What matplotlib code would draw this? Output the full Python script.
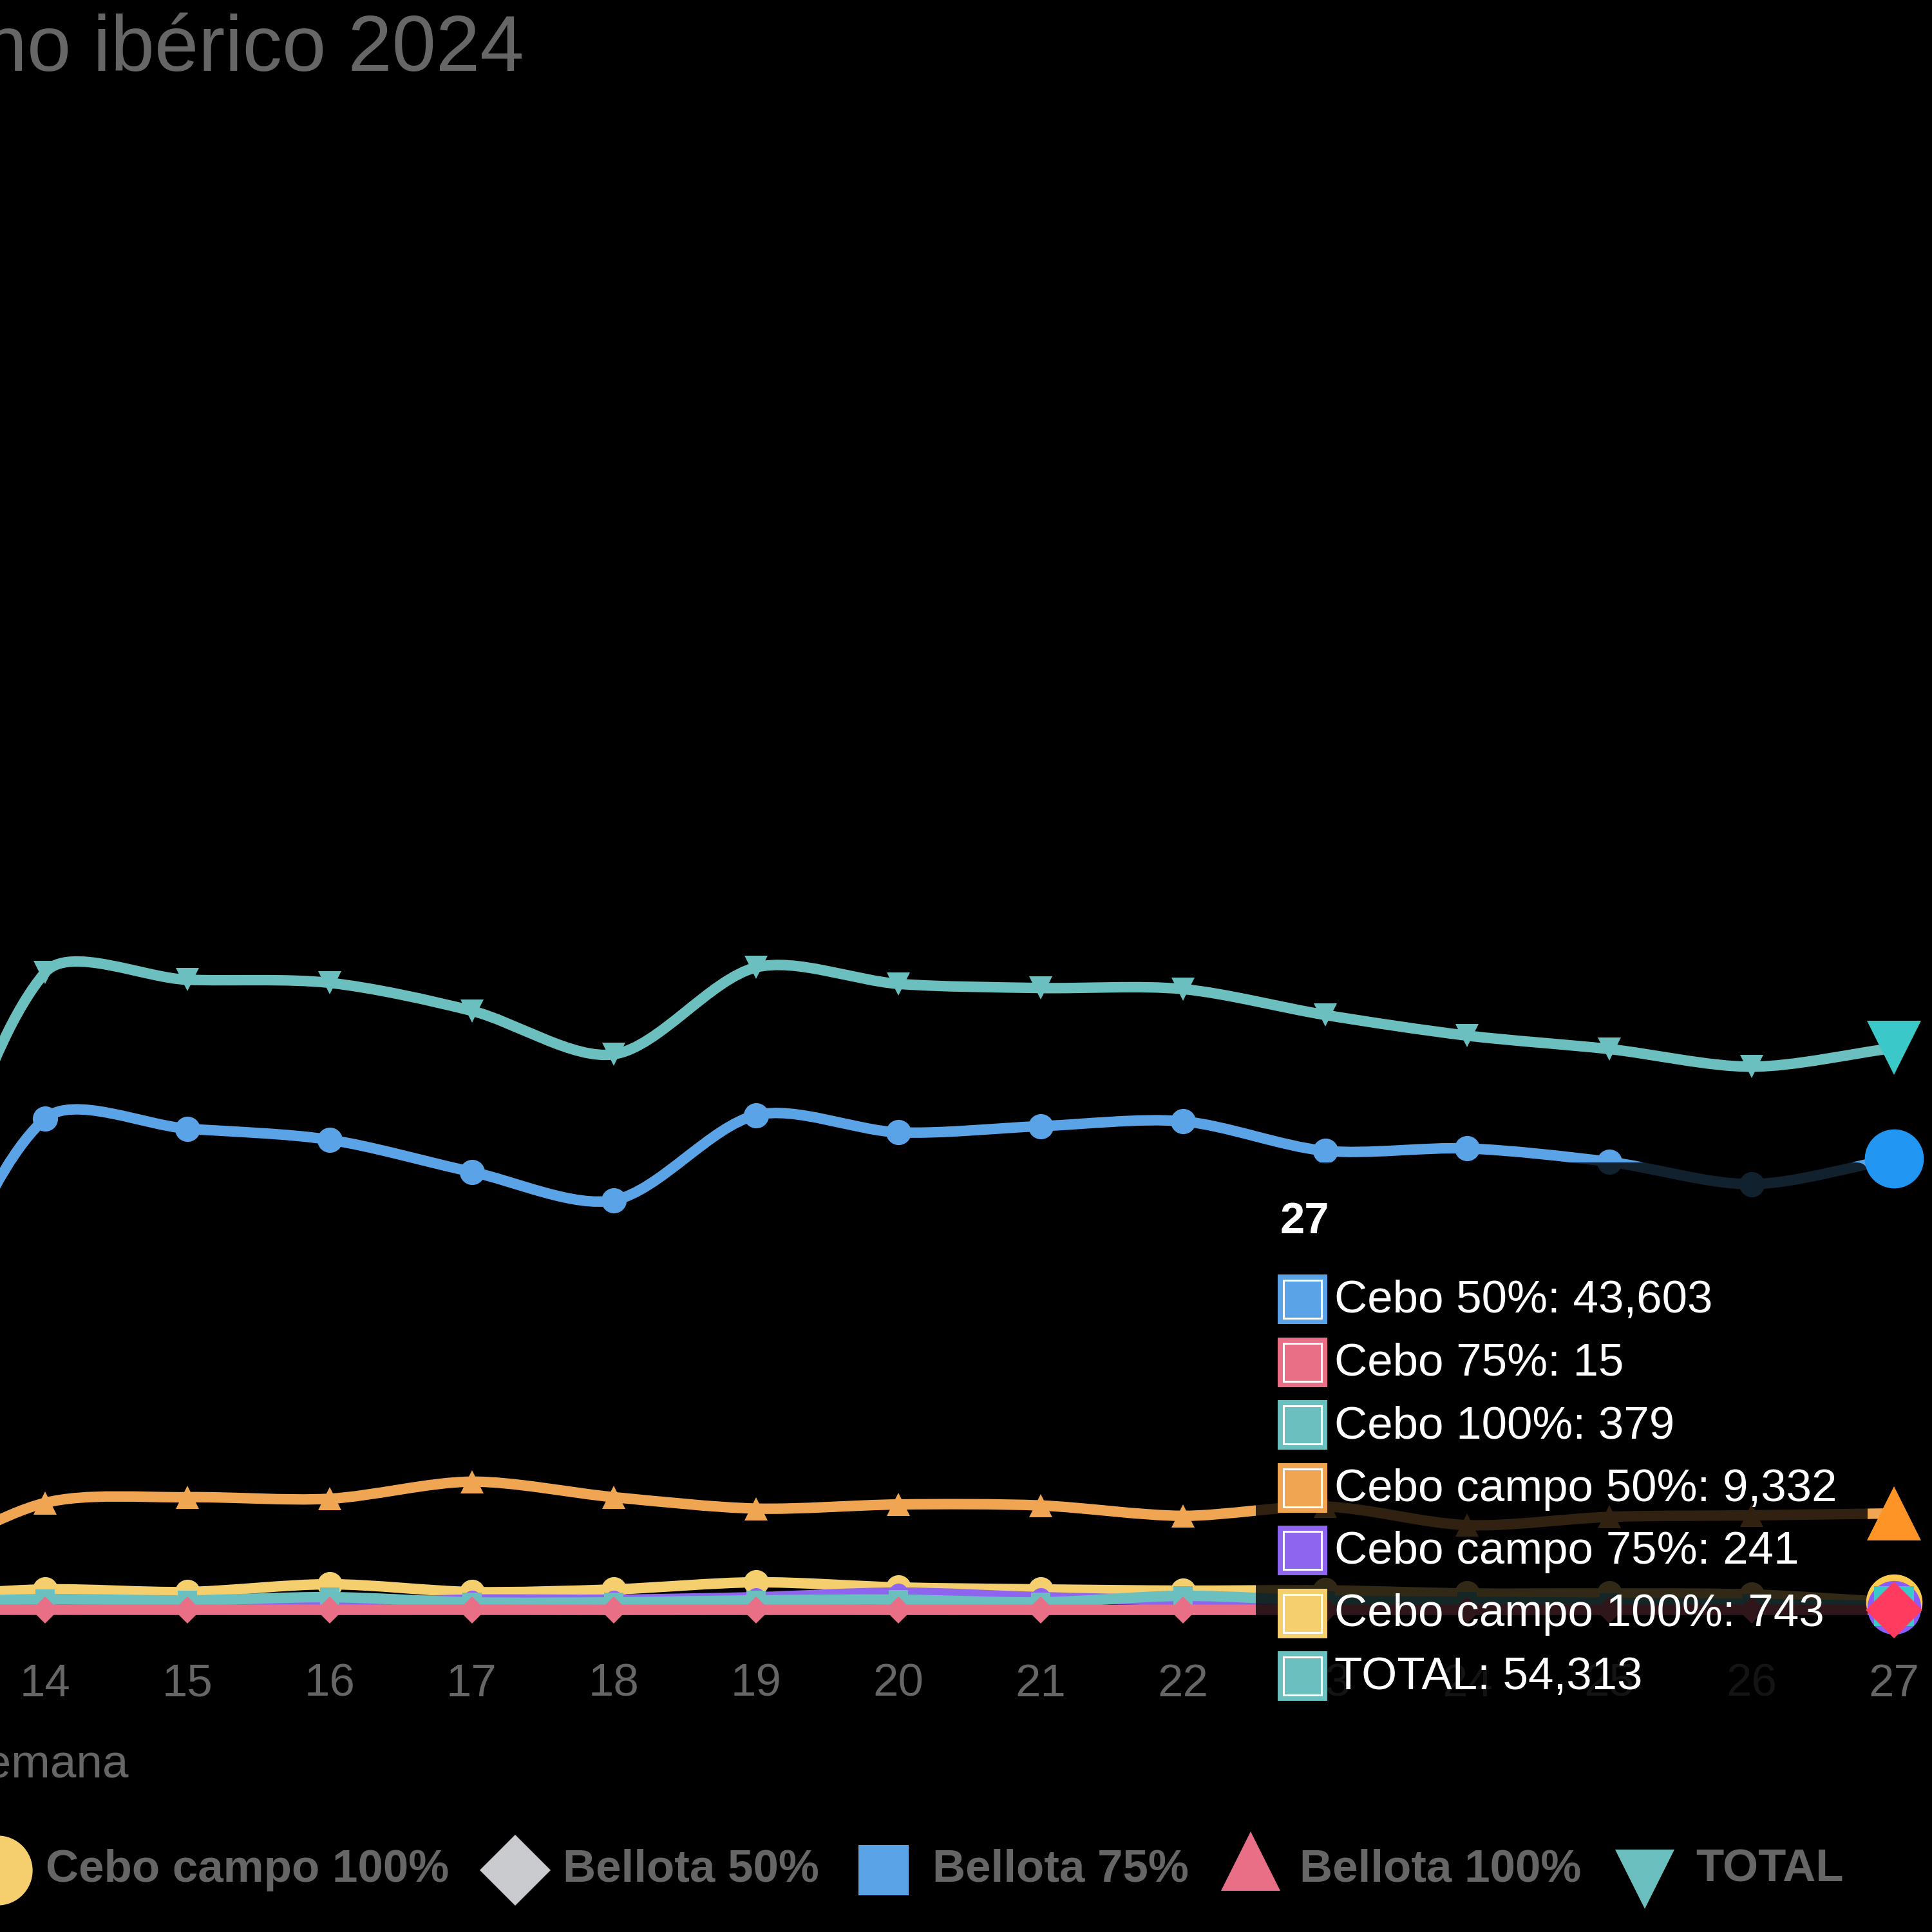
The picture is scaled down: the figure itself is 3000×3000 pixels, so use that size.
import numpy as np
import matplotlib
matplotlib.use("Agg")
import matplotlib.pyplot as plt
from matplotlib.path import Path
from matplotlib.patches import PathPatch, FancyBboxPatch, Rectangle
from matplotlib.lines import Line2D

# ---- data (weekly pig slaughter, 2024) ----
WEEKS = [13, 14, 15, 16, 17, 18, 19, 20, 21, 22, 23, 24, 25, 26, 27]
CEBO_50 = [22000, 47480, 46510, 45440, 42340, 39600, 47820, 46150, 46750, 47220, 44370, 44600, 43300, 41150, 43603]
CEBO_75 = [20, 25, 20, 18, 22, 15, 20, 18, 15, 16, 14, 12, 15, 13, 15]
CEBO_100 = [700, 1050, 930, 1240, 740, 740, 930, 1000, 740, 1370, 900, 800, 700, 600, 379]
CEBO_CAMPO_50 = [4000, 10350, 10900, 10750, 12400, 10900, 9800, 10200, 10100, 9100, 10000, 8200, 9000, 9150, 9332]
CEBO_CAMPO_75 = [500, 700, 800, 700, 1000, 1000, 1240, 1680, 1240, 930, 800, 700, 600, 500, 241]
CEBO_CAMPO_100 = [1200, 1990, 1740, 2490, 1740, 1990, 2680, 2180, 1990, 1870, 1900, 1600, 1600, 1500, 743]
TOTAL = [28500, 61600, 60900, 60600, 57900, 53700, 62100, 60500, 60100, 60000, 57500, 55500, 54200, 52500, 54313]

TICK_WEEKS = [14, 15, 16, 17, 18, 19, 20, 21, 22, 23, 24, 25, 26, 27]
TITLE = "Sacrificio de porcino ibérico 2024"

BLUE, PINK, TEAL = "#5aa3e6", "#e96f86", "#6bbfbf"
ORANGE, PURPLE, YELLOW, GREY = "#efa552", "#8e65ef", "#f5cf6e", "#c9cbcf"
TEXT_GREY = "#666666"

# label, values, colour, hover colour, marker, marker size, hover size
SERIES = [
    ("Cebo 50%", CEBO_50, BLUE, "#2196f3", "o", 9.4, 22),
    ("Cebo 75%", CEBO_75, PINK, "#ff3b5f", "D", 7, 15),
    ("Cebo 100%", CEBO_100, TEAL, "#3bc8c8", "s", 7, 15),
    ("Cebo campo 50%", CEBO_CAMPO_50, ORANGE, "#ff9426", "^", 8.5, 20),
    ("Cebo campo 75%", CEBO_CAMPO_75, PURPLE, "#8a5cff", "o", 7, 20),
    ("Cebo campo 100%", CEBO_CAMPO_100, YELLOW, "#ffcb4f", "o", 9.4, 21),
    ("TOTAL", TOTAL, TEAL, "#3bc8c8", "v", 8.5, 20),
]

LEGEND = [
    ("Cebo campo 100%", "o", YELLOW, -4, 2904, 26, 71),
    ("Bellota 50%", "D", GREY, 800, 2904, 18.7, 874),
    ("Bellota 75%", "s", BLUE, 1372, 2904, 18.7, 1448),
    ("Bellota 100%", "^", PINK, 1942, 2890, 22, 2018),
    ("TOTAL", "v", TEAL, 2554, 2918, 22, 2633),
]

plt.rcParams["font.family"] = ["Liberation Sans", "DejaVu Sans"]

W = H = 3000


def fx(x):
    return x / W


def fy(y):
    return 1 - y / H


# pixel geometry of the (cropped) chart area
X14, X27 = 70, 2941
ZERO_Y, PX_PER_UNIT = 2500, 0.01607
AX_TOP, AX_BOTTOM = 120, 2545

fig = plt.figure(figsize=(10, 10), dpi=300, facecolor="black")
ax = fig.add_axes([0, fy(AX_BOTTOM), 1, (AX_BOTTOM - AX_TOP) / H])
ax.set_facecolor("black")
per_week = (X27 - X14) / 13
ax.set_xlim(14 - X14 / per_week, 14 + (W - X14) / per_week)
ax.set_ylim((ZERO_Y - AX_BOTTOM) / PX_PER_UNIT, (ZERO_Y - AX_TOP) / PX_PER_UNIT)
for s in ax.spines.values():
    s.set_visible(False)
ax.set_yticks([])
ax.set_xticks(TICK_WEEKS)
ax.set_xticklabels([str(w) for w in TICK_WEEKS])
ax.tick_params(axis="x", length=0, pad=9, labelsize=17, labelcolor=TEXT_GREY)


def spline_path(xs, ys, tension=0.3):
    # chart.js style bezier through the points, computed in pixel space
    pts = ax.transData.transform(np.column_stack([xs, ys]))
    n = len(pts)
    cp_prev, cp_next = [], []
    for i in range(n):
        cur = pts[i]
        prev = pts[i - 1] if i > 0 else cur
        nxt = pts[i + 1] if i < n - 1 else cur
        d01 = np.hypot(*(cur - prev))
        d12 = np.hypot(*(nxt - cur))
        tot = d01 + d12
        s01 = d01 / tot if tot else 0
        s12 = d12 / tot if tot else 0
        cp_prev.append(cur - tension * s01 * (nxt - prev))
        cp_next.append(cur + tension * s12 * (nxt - prev))
    verts = [pts[0]]
    codes = [Path.MOVETO]
    for i in range(1, n):
        verts += [cp_next[i - 1], cp_prev[i], pts[i]]
        codes += [Path.CURVE4] * 3
    verts = ax.transData.inverted().transform(np.array(verts))
    return Path(verts, codes)


n_series = len(SERIES)
for i, (label, vals, col, hcol, mk, ms, hms) in enumerate(SERIES):
    z = 10 - i * 0.5 if label != "TOTAL" else 4
    ax.add_patch(PathPatch(spline_path(WEEKS, vals), fill=False, edgecolor=col,
                           lw=3.9, capstyle="round", joinstyle="round", zorder=z))
    ax.plot(WEEKS[:-1], vals[:-1], ls="none", marker=mk, ms=ms, color=col,
            markeredgewidth=0, zorder=z + 0.1)

# tooltip backdrop (dims what is behind)
fig.add_artist(FancyBboxPatch((fx(1950), fy(2680)), 950 / W, (2680 - 1805) / H,
                              boxstyle="round,pad=0,rounding_size=0.006",
                              fc=(0, 0, 0, 0.8), ec="none",
                              transform=fig.transFigure, zorder=20))

# hovered points at the last week
for i in reversed(range(n_series)):
    label, vals, col, hcol, mk, ms, hms = SERIES[i]
    fig.add_artist(Line2D([WEEKS[-1]], [vals[-1]], transform=ax.transData, ls="none",
                          marker=mk, ms=hms, color=hcol, markeredgewidth=0,
                          zorder=30 + (n_series - i) * 0.1))

# tooltip content
fig.text(fx(1988), fy(1915), str(WEEKS[-1]), color="white", fontsize=16.5,
         fontweight="bold", va="baseline", zorder=25)
for i, (label, vals, col, hcol, mk, ms, hms) in enumerate(SERIES):
    base = 2038 + i * 97.5
    fig.add_artist(Rectangle((fx(1984), fy(base + 18)), 77 / W, 77 / H, fc=col, ec="none",
                             transform=fig.transFigure, zorder=25))
    fig.add_artist(Rectangle((fx(1993), fy(base + 9)), 59 / W, 59 / H, fc="none", ec="white",
                             lw=0.7, transform=fig.transFigure, zorder=26))
    fig.text(fx(2072), fy(base), f"{label}: {vals[-1]:,}", color="white", fontsize=17,
             va="baseline", zorder=26)

# title and axis title (the chart is cropped on the left)
fig.text(fx(813), fy(110), TITLE, ha="right", va="baseline", fontsize=29.5, color=TEXT_GREY)
fig.text(fx(200), fy(2760), "Semana", ha="right", va="baseline", fontsize=17.5, color=TEXT_GREY)

# legend row
for label, mk, col, mx, my, ms, tx in LEGEND:
    fig.add_artist(Line2D([fx(mx)], [fy(my)], transform=fig.transFigure, ls="none",
                          marker=mk, ms=ms, color=col, markeredgewidth=0))
    fig.text(fx(tx), fy(2922), label, color=TEXT_GREY, fontsize=17, fontweight="bold",
             va="baseline")

fig.savefig("out.png", dpi=300, facecolor="black")
